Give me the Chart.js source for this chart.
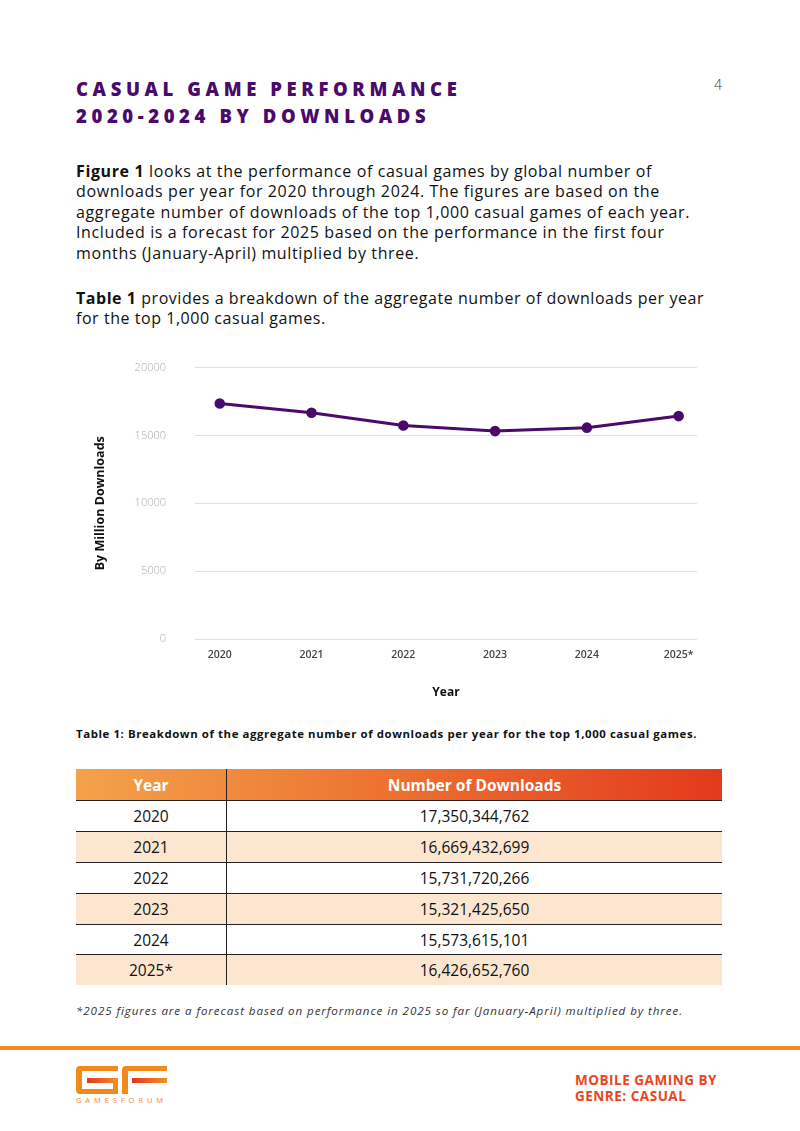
<!DOCTYPE html>
<html>
<head>
<meta charset="utf-8">
<script src="https://cdn.jsdelivr.net/npm/chart.js@4.4.1/dist/chart.umd.min.js"></script>
<style>
  body { margin: 0; background: #fff; font-family: "Open Sans", sans-serif; color: #111; }
  .page { position: relative; width: 800px; height: 1131px; overflow: hidden; }
  .title { position: absolute; left: 76px; top: 75px; font-weight: 800; font-size: 18.5px; letter-spacing: 4.6px; color: #4a0a6b; line-height: 27px; }
  .pagenum { position: absolute; left: 714px; top: 75px; font-size: 14px; color: #333; font-weight: 300; }
  .para { position: absolute; left: 76px; font-size: 16px; line-height: 20.4px; color: #111; white-space: nowrap; }
  .para b { font-weight: 700; }
  #chartBox { position: absolute; left: 90px; top: 332px; width: 620px; height: 378px; }
  .caption { position: absolute; left: 76px; top: 726px; font-size: 11.4px; font-weight: 700; color: #111; white-space: nowrap; }
  table { position: absolute; left: 76px; top: 769px; width: 646px; border-collapse: collapse; font-size: 15.5px; }
  th { height: 31px; color: #fff; font-weight: 700; font-size: 15.5px; padding: 0; }
  thead tr { background: linear-gradient(90deg, #f4a24a 0%, #ee7a35 40%, #e23a1c 100%); }
  td { height: 29.9px; text-align: center; padding: 0; border-top: 1.5px solid #222; }
  td:first-child, th:first-child { width: 150px; border-right: 1.5px solid #222; }
  tr.alt td { background: #fce6cf; }
  .note { position: absolute; left: 76px; top: 1003px; font-size: 11.6px; font-style: italic; color: #333; white-space: nowrap; }
  .rule { position: absolute; left: 0; top: 1046px; width: 800px; height: 4px; background: #f08a1c; }
  .logo { position: absolute; left: 76px; top: 1065px; }
  .logotext { position: absolute; left: 76px; top: 1095px; font-size: 7.5px; color: #f08a1c; white-space: nowrap; }
  .genre { position: absolute; left: 575px; top: 1072px; font-size: 13.5px; font-weight: 700; line-height: 16px; color: #e8461e; white-space: nowrap; }
</style>
</head>
<body>
<div class="page">
  <div class="title">CASUAL GAME PERFORMANCE<br>2020-2024 BY DOWNLOADS</div>
  <div class="pagenum">4</div>

  <div class="para fit" data-w="576" style="top:161px"><span class="l1"><b>Figure 1</b> looks at the performance of casual games by global number of</span><br>downloads per year for 2020 through 2024. The figures are based on the<br>aggregate number of downloads of the top 1,000 casual games of each year.<br>Included is a forecast for 2025 based on the performance in the first four<br>months (January-April) multiplied by three.</div>

  <div class="para fit" data-w="628" style="top:288px"><span class="l1"><b>Table 1</b> provides a breakdown of the aggregate number of downloads per year</span><br>for the top 1,000 casual games.</div>

  <div id="chartBox"><canvas id="chartDownloads"></canvas></div>

  <div class="caption fit" data-w="621"><span class="l1">Table 1: Breakdown of the aggregate number of downloads per year for the top 1,000 casual games.</span></div>

  <table id="tbl">
    <thead><tr><th>Year</th><th>Number of Downloads</th></tr></thead>
    <tbody></tbody>
  </table>

  <div class="note fit" data-w="607"><span class="l1">*2025 figures are a forecast based on performance in 2025 so far (January-April) multiplied by three.</span></div>

  <div class="rule"></div>
  <svg class="logo" width="92" height="30" viewBox="0 0 92 30">
    <defs>
      <linearGradient id="lg" x1="0" x2="1" y1="0" y2="0">
        <stop offset="0" stop-color="#e4361c"/>
        <stop offset="1" stop-color="#f39222"/>
      </linearGradient>
    </defs>
    <path d="M4 1 H42 V6 H6 V24 H42 V29 H4 Q0 29 0 25 V5 Q0 1 4 1 Z" fill="#f08a1c"/>
    <rect x="11" y="13" width="31" height="5" fill="url(#lg)"/>
    <rect x="37" y="13" width="5" height="14" fill="#f08a1c"/>
    <path d="M50 1 H91 V6 H52 V29 H46 V5 Q46 1 50 1 Z" fill="#f08a1c"/>
    <rect x="56" y="13" width="35" height="5" fill="url(#lg)"/>
  </svg>
  <div class="logotext fit" data-w="91"><span class="l1">GAMESFORUM</span></div>
  <div class="genre fit" data-w="142"><span class="l1">MOBILE GAMING BY</span><br>GENRE: CASUAL</div>
</div>

<script>
const years = ['2020', '2021', '2022', '2023', '2024', '2025*'];
const downloads = [17350344762, 16669432699, 15731720266, 15321425650, 15573615101, 16426652760];
const millionDownloads = [17350.3, 16669.4, 15731.7, 15321.4, 15573.6, 16426.7];
const yTicks = [0, 5000, 10000, 15000, 20000];

// table
const tbody = document.querySelector('#tbl tbody');
years.forEach((y, i) => {
  const tr = document.createElement('tr');
  if (i % 2 == 1) tr.className = 'alt';
  tr.innerHTML = '<td>' + y + '</td><td>' + downloads[i].toLocaleString('en-US') + '</td>';
  tbody.appendChild(tr);
});

// stretch text blocks a little so the lines are as wide as in the print
document.querySelectorAll('.fit').forEach(el => {
  const l1 = el.querySelector('.l1');
  const w = l1.getBoundingClientRect().width;
  const n = l1.textContent.length;
  el.style.letterSpacing = ((+el.dataset.w - w) / n) + 'px';
});

const ctx = document.getElementById('chartDownloads');

new Chart(ctx, {
  type: 'line',
  data: {
    datasets: [{
      label: 'By Million Downloads',
      data: years.map((y, i) => ({ x: i, y: millionDownloads[i] })),
      borderColor: '#4a0a6b',
      backgroundColor: '#4a0a6b',
      borderWidth: 3,
      pointRadius: 3.8,
      tension: 0
    }]
  },
  options: {
    responsive: true,
    maintainAspectRatio: false,
    animation: false,
    layout: { padding: { top: 17, right: 13, left: 0, bottom: 0 } },
    plugins: { legend: { display: false }, tooltip: { enabled: false } },
    scales: {
      x: {
        type: 'linear',
        min: -0.27,
        max: 5.2,
        afterBuildTicks: s => { s.ticks = years.map((y, i) => ({ value: i })); },
        afterFit: s => { s.height = 71; },
        grid: { display: false, drawTicks: false },
        border: { display: false },
        ticks: {
          autoSkip: false, maxRotation: 0, padding: 10,
          color: '#444', font: { family: 'Open Sans', size: 10.5, weight: '600' },
          callback: v => years[v]
        },
        title: {
          display: true, text: 'Year', color: '#111',
          font: { family: 'Open Sans', size: 12, weight: '700' },
          padding: { top: 0, bottom: 10 }
        }
      },
      y: {
        min: 0,
        max: 20000,
        afterBuildTicks: s => { s.ticks = yTicks.map(v => ({ value: v })); },
        afterFit: s => { s.width = 105; },
        grid: { color: '#e0e0e0', lineWidth: 1, drawTicks: false },
        border: { display: false },
        ticks: {
          padding: 29, color: '#aaa',
          font: { family: 'Open Sans', size: 11, weight: '300' },
          callback: v => String(v)
        },
        title: {
          display: true, text: 'By Million Downloads', color: '#111',
          font: { family: 'Open Sans', size: 12.5, weight: '700' },
          padding: { top: 3, bottom: 0 }
        }
      }
    }
  }
});
</script>
</body>
</html>
